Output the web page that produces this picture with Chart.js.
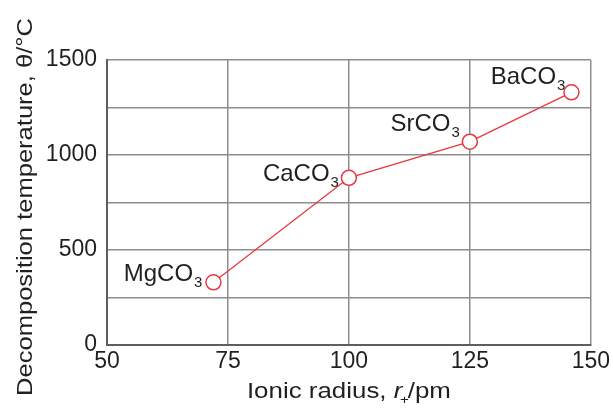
<!DOCTYPE html>
<html>
<head>
<meta charset="utf-8">
<script src="https://cdn.jsdelivr.net/npm/chart.js@4.4.1/dist/chart.umd.min.js"></script>
<style>
  html, body { margin: 0; padding: 0; background: #fff; }
  #wrap { width: 613px; height: 409px; }
  canvas { display: block; }
</style>
</head>
<body>
<div id="wrap"><canvas id="chart" width="613" height="409"></canvas></div>
<script>
// ionic radius of the cation (pm) vs decomposition temperature (°C)
const compounds = ['MgCO', 'CaCO', 'SrCO', 'BaCO'];
const subscripts = ['3', '3', '3', '3'];
const radii = [72, 100, 125, 146];
const temps = [330, 880, 1070, 1330];
const xTicks = [50, 75, 100, 125, 150];
const yLabelled = [0, 500, 1000, 1500];

// where each label sits relative to its point: [right edge dx, baseline dy]
const labelOffsets = [[-12, -1], [-11, 3], [-11, -11], [-7, -8]];

const FONT = '"Liberation Sans", Arial, sans-serif';
const TEXT = '#231f20';
const RED = '#e8383f';

const points = radii.map((r, i) => ({ x: r, y: temps[i] }));

// the original uses a wide face for the axis titles, so stretch to width
function drawStretched(ctx, parts, cx, base, targetW) {
  let total = 0;
  parts.forEach(p => { ctx.font = p.f; p.w = ctx.measureText(p.t).width + (p.adv || 0); total += p.w; });
  const k = targetW / total;
  ctx.save();
  ctx.translate(cx - targetW / 2, base);
  ctx.scale(k, 1);
  let x = 0;
  ctx.textAlign = 'left';
  parts.forEach(p => {
    ctx.font = p.f;
    ctx.fillText(p.t, x + (p.dx || 0), p.dy || 0);
    x += p.w;
  });
  ctx.restore();
}

const overlay = {
  id: 'overlay',
  afterDatasetsDraw(chart) {
    const ctx = chart.ctx;
    const meta = chart.getDatasetMeta(0);
    ctx.save();
    ctx.fillStyle = TEXT;
    ctx.textBaseline = 'alphabetic';
    meta.data.forEach((pt, i) => {
      const [dx, dy] = labelOffsets[i];
      ctx.font = '24px ' + FONT;
      const mainW = ctx.measureText(compounds[i]).width;
      ctx.font = '15px ' + FONT;
      const subW = ctx.measureText(subscripts[i]).width;
      const right = pt.x + dx;
      const left = right - subW - mainW;
      ctx.textAlign = 'left';
      ctx.font = '24px ' + FONT;
      ctx.fillText(compounds[i], left, pt.y + dy);
      ctx.font = '15px ' + FONT;
      ctx.fillText(subscripts[i], left + mainW + 1, pt.y + dy + 6);
    });
    ctx.restore();
  },
  afterDraw(chart) {
    const ctx = chart.ctx;
    const a = chart.chartArea;
    ctx.save();
    ctx.fillStyle = TEXT;
    ctx.textBaseline = 'alphabetic';

    // y title
    ctx.save();
    ctx.translate(32, 0);
    ctx.rotate(-Math.PI / 2);
    drawStretched(ctx, [{ t: 'Decomposition temperature, θ/°C', f: '22px ' + FONT }],
      -207, 0, 378);
    ctx.restore();

    // x title with italic r and subscript +
    drawStretched(ctx, [
      { t: 'Ionic radius, ', f: '22px ' + FONT },
      { t: 'r', f: 'italic 22px ' + FONT },
      { t: '+', f: '13px ' + FONT, dy: 6, dx: -2, adv: -3 },
      { t: '/pm', f: '22px ' + FONT }
    ], (a.left + a.right) / 2, 398, 204);
    ctx.restore();
  }
};

new Chart(document.getElementById('chart'), {
  type: 'scatter',
  data: {
    datasets: [{
      data: points,
      showLine: true,
      borderColor: RED,
      borderWidth: 1.3,
      pointRadius: 7.5,
      pointHoverRadius: 7.5,
      pointBorderWidth: 1.5,
      pointBorderColor: RED,
      pointBackgroundColor: '#fff'
    }]
  },
  options: {
    responsive: false,
    animation: false,
    layout: { padding: { top: 60, right: 21, left: 0, bottom: 0 } },
    plugins: { legend: { display: false }, tooltip: { enabled: false } },
    scales: {
      x: {
        type: 'linear',
        min: 50,
        max: 150,
        afterBuildTicks: s => { s.ticks = xTicks.map(v => ({ value: v })); },
        afterFit: s => { s.height = 64; },
        ticks: { color: TEXT, font: { family: FONT, size: 23 }, padding: 3, maxRotation: 0 },
        grid: { color: '#8e8e8e', lineWidth: 1.5, drawTicks: false },
        border: { color: '#5e5e5e', width: 2 }
      },
      y: {
        min: 0,
        max: 1500,
        ticks: {
          stepSize: 250,
          color: TEXT,
          font: { family: FONT, size: 23 },
          padding: 10,
          callback: v => yLabelled.includes(v) ? String(v) : ''
        },
        afterFit: s => { s.width = 107; },
        grid: { color: '#8e8e8e', lineWidth: 1.5, drawTicks: false },
        border: { color: '#5e5e5e', width: 2 }
      }
    }
  },
  plugins: [overlay]
});
</script>
</body>
</html>
